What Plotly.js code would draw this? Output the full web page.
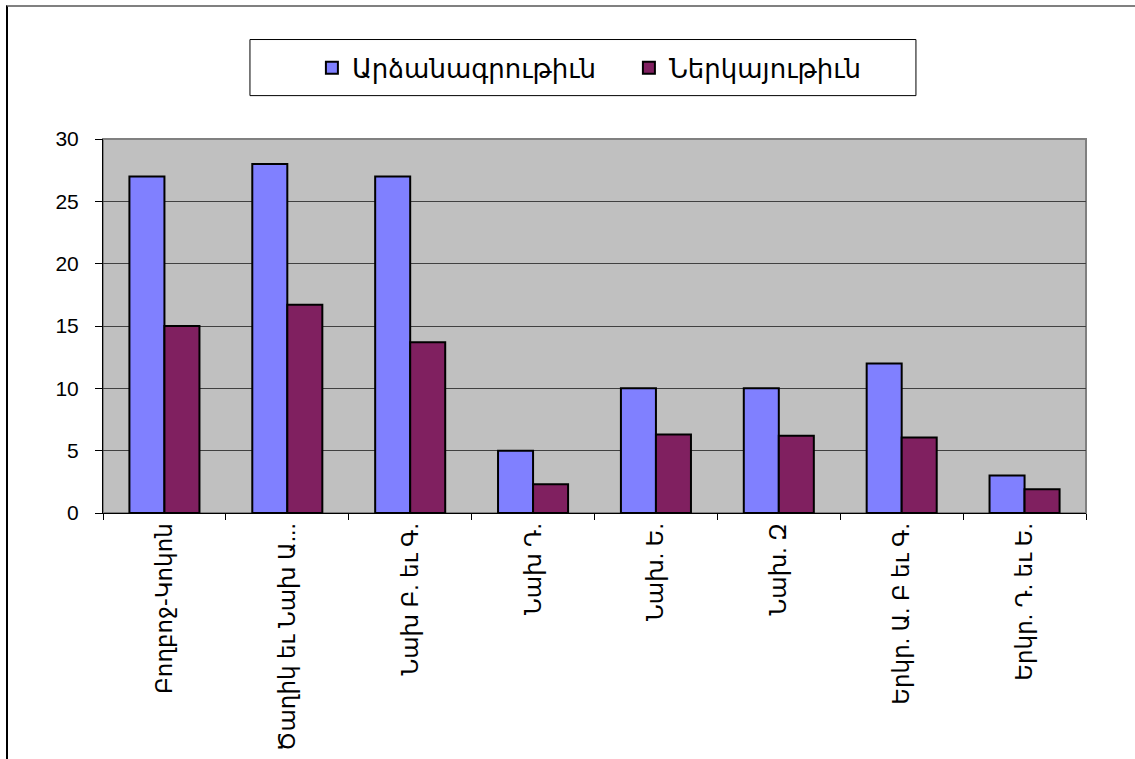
<!DOCTYPE html>
<html>
<head>
<meta charset="utf-8">
<script src="https://cdn.plot.ly/plotly-3.0.1.min.js"></script>
<style>
  html, body { margin: 0; padding: 0; background: #ffffff; overflow: hidden; }
  #chart { position: absolute; left: 0; top: 0; width: 1135px; height: 759px; }
  #frame { position: absolute; left: 6px; top: 5px; width: 1140px; height: 760px;
           border-top: 2px solid #808080; border-left: 2px solid #000000; pointer-events: none; }
</style>
</head>
<body>
<div id="chart"></div>
<div id="frame"></div>
<script>
const categories = [
  "Բողբոջ-Կոկոն",
  "Ծաղիկ եւ Նախ Ա...",
  "Նախ Բ. եւ Գ.",
  "Նախ Դ.",
  "Նախ. Ե.",
  "Նախ. Զ",
  "Երկր. Ա. Բ եւ Գ.",
  "Երկր. Դ. եւ Ե."
];
const seriesNames = ["Արձանագրութիւն", "Ներկայութիւն"];
const registration = [27, 28, 27, 5, 10, 10, 12, 3];
const attendance = [15, 16.7, 13.7, 2.3, 6.3, 6.2, 6.05, 1.9];
const yTicks = [0, 5, 10, 15, 20, 25, 30];

const fontFam = "Liberation Sans, Arial, DejaVu Sans, sans-serif";

const traces = [
  {
    type: "bar", name: seriesNames[0], x: categories, y: registration,
    marker: { color: "#8080FF", line: { color: "#000000", width: 2 } },
    hoverinfo: "skip"
  },
  {
    type: "bar", name: seriesNames[1], x: categories, y: attendance,
    marker: { color: "#802060", line: { color: "#000000", width: 2 } },
    hoverinfo: "skip"
  }
];

const layout = {
  width: 1135, height: 759,
  margin: { l: 103, r: 49, t: 139, b: 246 },
  paper_bgcolor: "#ffffff",
  plot_bgcolor: "#C0C0C0",
  font: { family: fontFam, size: 20, color: "#000000" },
  barmode: "group",
  bargap: 0.43,
  bargroupgap: 0,
  showlegend: true,
  legend: {
    orientation: "h",
    x: 0.535, xanchor: "center",
    y: 1.19, yanchor: "middle",
    bgcolor: "rgba(0,0,0,0)",
    borderwidth: 0,
    font: { family: fontFam, size: 26, color: "#000000" },
    itemwidth: 30,
    entrywidth: 272,
    traceorder: "normal"
  },
  xaxis: {
    type: "category",
    showgrid: false,
    showline: true, linecolor: "#000000", linewidth: 1,
    ticks: "outside", tickson: "boundaries", ticklen: 6, tickcolor: "#000000", tickwidth: 1,
    tickangle: -90,
    tickfont: { family: fontFam, size: 23, color: "#000000" },
    fixedrange: true
  },
  yaxis: {
    range: [0, 30],
    tickvals: yTicks,
    ticktext: yTicks.map(String),
    showgrid: true, gridcolor: "#404040", gridwidth: 1,
    zeroline: false,
    showline: true, linecolor: "#000000", linewidth: 1,
    ticks: "outside", ticklen: 7, tickcolor: "#000000", tickwidth: 1,
    ticklabelstandoff: 12,
    tickfont: { family: fontFam, size: 21, color: "#000000" },
    fixedrange: true
  },
  shapes: [
    {
      type: "rect", xref: "paper", yref: "paper",
      x0: 0, x1: 1, y0: 0, y1: 1,
      line: { color: "#808080", width: 2 },
      fillcolor: "rgba(0,0,0,0)",
      layer: "below"
    },
    {
      type: "rect", xref: "paper", yref: "paper",
      x0: 0.1495, x1: 0.827, y0: 1.116, y1: 1.266,
      line: { color: "#000000", width: 1 },
      fillcolor: "#ffffff",
      layer: "above"
    }
  ]
};

Plotly.newPlot("chart", traces, layout, { staticPlot: true, displayModeBar: false });
</script>
</body>
</html>
